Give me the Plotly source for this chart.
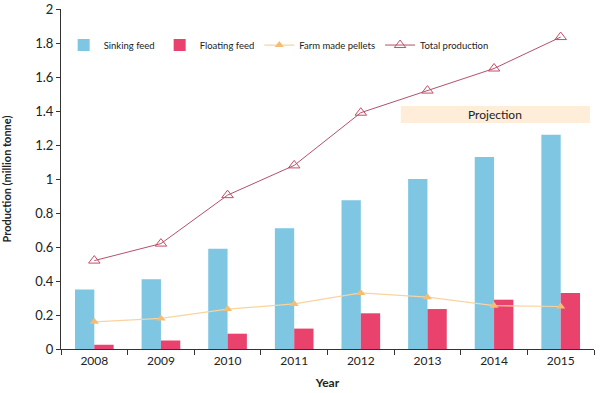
import plotly.graph_objects as go

years = ["2008", "2009", "2010", "2011", "2012", "2013", "2014", "2015"]
sinking = [0.35, 0.41, 0.59, 0.71, 0.875, 1.0, 1.13, 1.26]
floating = [0.025, 0.05, 0.09, 0.12, 0.21, 0.235, 0.29, 0.33]
farm_made = [0.16, 0.18, 0.235, 0.265, 0.33, 0.305, 0.255, 0.25]
total = [0.52, 0.62, 0.905, 1.08, 1.39, 1.52, 1.65, 1.835]
y_ticks = [0, 0.2, 0.4, 0.6, 0.8, 1, 1.2, 1.4, 1.6, 1.8, 2]
y_tick_text = ["0", "0.2", "0.4", "0.6", "0.8", "1", "1.2", "1.4", "1.6", "1.8", "2"]

FONT = "Lato, Noto Sans"

fig = go.Figure()
fig.add_trace(go.Bar(x=years, y=sinking, name="Sinking feed",
                     marker=dict(color="#7ec6e2", line=dict(width=0))))
fig.add_trace(go.Bar(x=years, y=floating, name="Floating feed",
                     marker=dict(color="#e8426d", line=dict(width=0))))
fig.add_trace(go.Scatter(x=years, y=farm_made, name="Farm made pellets", mode="lines+markers",
                         line=dict(color="#f9d3a0", width=1.2),
                         marker=dict(symbol="triangle-up", size=8, color="#f6bd72")))
fig.add_trace(go.Scatter(x=years, y=total, name="Total production", mode="lines+markers",
                         line=dict(color="#b5506a", width=1),
                         marker=dict(symbol="triangle-up-open", size=10, color="#c44d66",
                                     line=dict(width=1))))

fig.add_shape(type="rect", xref="x", yref="y", x0=4.6, x1=7.44, y0=1.33, y1=1.43,
              fillcolor="#fdedd9", line=dict(width=0), layer="below")
fig.add_annotation(x=6.02, y=1.38, xref="x", yref="y", text="Projection", showarrow=False,
                   font=dict(family=FONT, size=12, color="#222"))

fig.update_layout(
    width=600, height=393,
    margin=dict(l=61, r=6, t=9, b=44),
    paper_bgcolor="white", plot_bgcolor="white",
    barmode="group", bargap=0.42, bargroupgap=0,
    font=dict(family=FONT, size=12, color="#222"),
    showlegend=True,
    legend=dict(orientation="h", x=0.005, y=0.894, xanchor="left", yanchor="middle",
                font=dict(family=FONT, size=9.5, color="#222"),
                bgcolor="rgba(0,0,0,0)", itemwidth=30, tracegroupgap=0),
    xaxis=dict(type="category", range=[-0.5, 7.5], showline=True, linecolor="#333",
               linewidth=1.2, ticks="outside", tickson="boundaries", ticklen=5,
               tickcolor="#333", showgrid=False, automargin=False,
               title=dict(text="<b>Year</b>", font=dict(family=FONT, size=12), standoff=12),
               tickfont=dict(family=FONT, size=12)),
    yaxis=dict(range=[0, 2], tickvals=y_ticks, ticktext=y_tick_text, showline=True,
               linecolor="#333", linewidth=1.2, ticks="outside", ticklen=4, tickcolor="#333",
               showgrid=False, zeroline=False, automargin=False,
               title=dict(text="<b>Production (million tonne)</b>", font=dict(family=FONT, size=11),
                          standoff=22),
               tickfont=dict(family=FONT, size=13)),
)

fig.write_html("out.html", config={"displayModeBar": False},
               post_script="document.body.style.margin='0';")
